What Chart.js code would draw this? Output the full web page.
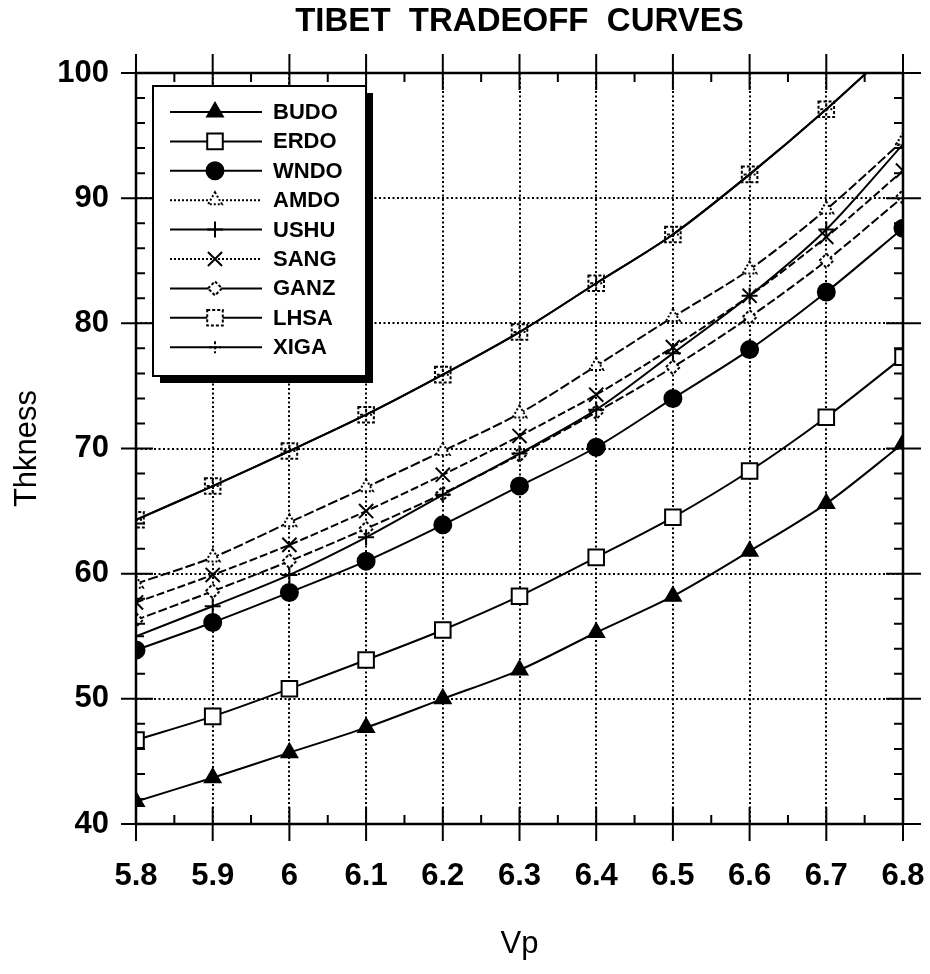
<!DOCTYPE html>
<html><head><meta charset="utf-8">
<script src="https://cdn.jsdelivr.net/npm/chart.js@4/dist/chart.umd.min.js"></script>
<style>html,body{margin:0;padding:0;background:#fff}#wrap{width:930px;height:974px}</style>
</head><body><div id="wrap"><canvas id="c" width="930" height="974"></canvas></div>
<script>
// ---- data ----
const vp = [5.8, 5.9, 6.0, 6.1, 6.2, 6.3, 6.4, 6.5, 6.6, 6.7, 6.8];
const xTickLabels = ['5.8', '5.9', '6', '6.1', '6.2', '6.3', '6.4', '6.5', '6.6', '6.7', '6.8'];
const yTickLabels = ['40', '50', '60', '70', '80', '90', '100'];
const seriesNames = ['BUDO', 'ERDO', 'WNDO', 'AMDO', 'USHU', 'SANG', 'GANZ', 'LHSA', 'XIGA'];
const budo = [41.8, 43.7, 45.7, 47.7, 50.0, 52.3, 55.3, 58.2, 61.8, 65.6, 70.4];
const erdo = [46.7, 48.6, 50.8, 53.1, 55.5, 58.2, 61.3, 64.5, 68.2, 72.5, 77.3];
const wndo = [53.9, 56.1, 58.5, 61.0, 63.9, 67.0, 70.1, 74.0, 77.9, 82.5, 87.6];
const amdo = [59.2, 61.3, 64.1, 66.9, 69.8, 72.8, 76.6, 80.5, 84.3, 89.1, 94.6];
const ushu = [55.0, 57.4, 59.9, 62.9, 66.3, 69.6, 73.1, 77.6, 82.2, 87.5, 94.3];
const sang = [57.7, 59.9, 62.3, 65.0, 67.9, 71.0, 74.3, 78.1, 82.2, 86.9, 92.2];
const ganz = [56.3, 58.6, 61.0, 63.6, 66.4, 69.5, 72.9, 76.5, 80.5, 85.0, 90.1];
const lhsa = [64.3, 67.0, 69.8, 72.7, 75.9, 79.3, 83.2, 87.1, 91.9, 97.1, 102.7];
const xiga = [64.3, 67.0, 69.8, 72.7, 75.9, 79.3, 83.2, 87.1, 91.9, 97.1, 102.7];
const seriesValues = [budo, erdo, wndo, amdo, ushu, sang, ganz, lhsa, xiga];

// ---- styles ----
const styles = [
  {pointStyle: 'triangle', r: 9,  fill: '#000', dash: [],      legendDash: [],     pDash: null},
  {pointStyle: 'rect',     r: 11, fill: '#fff', dash: [],      legendDash: [],     pDash: null},
  {pointStyle: 'circle',   r: 8.5,fill: '#000', dash: [],      legendDash: [],     pDash: null},
  {pointStyle: 'triangle', r: 8,  fill: '#fff', dash: [10, 3], legendDash: [2, 2], pDash: [2, 2]},
  {pointStyle: 'cross',    r: 8,  fill: '#fff', dash: [],      legendDash: [],     pDash: null},
  {pointStyle: 'crossRot', r: 10, fill: '#fff', dash: [8, 3],  legendDash: [2, 2], pDash: null},
  {pointStyle: 'rectRot',  r: 7,  fill: '#fff', dash: [9, 3],  legendDash: [],     pDash: [3, 2]},
  {pointStyle: 'rect',     r: 11, fill: 'rgba(0,0,0,0)', dash: [], legendDash: [], pDash: [3, 2]},
  {pointStyle: 'cross',    r: 6,  fill: '#fff', dash: [],      legendDash: [],     pDash: [3, 2]}
];

const FONT = '"Liberation Sans", Arial, sans-serif';

const datasets = seriesNames.map((name, i) => ({
  label: name,
  data: vp.map((v, j) => ({x: v, y: seriesValues[i][j]})),
  borderColor: '#000',
  borderWidth: 2,
  borderDash: styles[i].dash,
  pointStyle: styles[i].pointStyle,
  pointRadius: styles[i].r,
  pointBorderWidth: 2,
  pointBorderColor: '#000',
  pointBackgroundColor: styles[i].fill,
  tension: 0.3,
  fill: false,
  legendDash: styles[i].legendDash,
  pointDash: styles[i].pDash
}));

const pointDashPlugin = {
  id: 'pointDash',
  beforeDatasetDraw(chart, args) {
    const ds = chart.data.datasets[args.index];
    chart.ctx.save();
    if (ds.pointDash) chart.ctx.setLineDash(ds.pointDash);
  },
  afterDatasetDraw(chart) { chart.ctx.restore(); }
};

const frameTicksLegend = {
  id: 'frameTicksLegend',
  afterDraw(chart) {
    const {ctx, chartArea: a, scales: {x, y}} = chart;
    ctx.save();
    ctx.strokeStyle = '#000';
    ctx.setLineDash([]);
    ctx.lineWidth = 2;
    ctx.beginPath();
    for (let i = 0; i < vp.length; i++) {
      const px = x.getPixelForValue(vp[i]);
      ctx.moveTo(px, a.bottom + 17); ctx.lineTo(px, a.bottom - 17);
      ctx.moveTo(px, a.top - 19); ctx.lineTo(px, a.top + 17);
      if (i < vp.length - 1) {
        const mx = x.getPixelForValue((vp[i] + vp[i + 1]) / 2);
        ctx.moveTo(mx, a.bottom); ctx.lineTo(mx, a.bottom - 9);
        ctx.moveTo(mx, a.top); ctx.lineTo(mx, a.top + 9);
      }
    }
    const yt = y.ticks.map(t => t.value);
    for (let i = 0; i < yt.length; i++) {
      const py = y.getPixelForValue(yt[i]);
      ctx.moveTo(a.left - 15, py); ctx.lineTo(a.left + 17, py);
      ctx.moveTo(a.right - 17, py); ctx.lineTo(a.right + 18, py);
      if (i < yt.length - 1) {
        for (let k = 1; k < 5; k++) {
          const my = y.getPixelForValue(yt[i] + (yt[i + 1] - yt[i]) * k / 5);
          ctx.moveTo(a.left, my); ctx.lineTo(a.left + 9, my);
          ctx.moveTo(a.right, my); ctx.lineTo(a.right - 9, my);
        }
      }
    }
    ctx.stroke();
    ctx.lineWidth = 2.5;
    ctx.strokeRect(a.left, a.top, a.right - a.left, a.bottom - a.top);

    // legend box
    const bx = a.left + 17, by = a.top + 13, bw = 213, bh = 290, sh = 7;
    ctx.fillStyle = '#000';
    ctx.fillRect(bx + sh, by + sh, bw, bh);
    ctx.fillStyle = '#fff';
    ctx.fillRect(bx, by, bw, bh);
    ctx.lineWidth = 2;
    ctx.strokeRect(bx, by, bw, bh);
    ctx.font = 'bold 22px ' + FONT;
    ctx.textBaseline = 'middle';
    ctx.textAlign = 'left';
    chart.data.datasets.forEach((ds, i) => {
      const ly = by + 26 + i * 29.4;
      ctx.save();
      ctx.strokeStyle = '#000';
      ctx.lineWidth = 2;
      ctx.setLineDash(ds.legendDash);
      ctx.beginPath();
      ctx.moveTo(bx + 17, ly); ctx.lineTo(bx + 109, ly);
      ctx.stroke();
      ctx.setLineDash(ds.pointDash || []);
      ctx.fillStyle = ds.pointBackgroundColor === 'rgba(0,0,0,0)' ? '#fff' : ds.pointBackgroundColor;
      ctx.lineWidth = 2;
      Chart.helpers.drawPoint(ctx, {pointStyle: ds.pointStyle, radius: ds.pointRadius, borderWidth: 2, rotation: 0}, bx + 62, ly);
      ctx.restore();
      ctx.fillStyle = '#000';
      ctx.fillText(ds.label, bx + 120, ly + 1);
    });
    ctx.restore();
  }
};

new Chart(document.getElementById('c'), {
  type: 'line',
  data: {datasets},
  plugins: [pointDashPlugin, frameTicksLegend],
  options: {
    responsive: false,
    devicePixelRatio: 1,
    animation: false,
    layout: {padding: {left: 0, right: 27, top: 0, bottom: 0}},
    plugins: {
      legend: {display: false},
      tooltip: {enabled: false},
      title: {
        display: true,
        fullSize: false,
        text: 'TIBET  TRADEOFF  CURVES',
        color: '#000',
        font: {family: FONT, size: 33, weight: 'bold', lineHeight: 1.2},
        padding: {top: 2, bottom: 31.4}
      }
    },
    scales: {
      x: {
        type: 'linear',
        min: 5.8, max: 6.8,
        afterFit: s => { s.height = 150; s.paddingLeft = 0; s.paddingRight = 0; },
        afterBuildTicks: s => { s.ticks = vp.map(v => ({value: v})); },
        ticks: {
          callback: (v, i) => xTickLabels[i],
          color: '#000', padding: 34, maxRotation: 0, autoSkip: false,
          font: {family: FONT, size: 31, weight: 'bold'}
        },
        grid: {color: '#000', lineWidth: 2, drawTicks: false},
        border: {display: false, dash: [2, 2.5]},
        title: {display: true, text: 'Vp', color: '#000', padding: {top: 0, bottom: 11},
          font: {family: FONT, size: 31}}
      },
      y: {
        type: 'linear',
        min: 40, max: 100,
        afterFit: s => { s.width = 136; s.paddingTop = 0; s.paddingBottom = 0; },
        afterBuildTicks: s => { s.ticks = yTickLabels.map(t => ({value: Number(t)})); },
        ticks: {
          callback: (v, i) => yTickLabels[i],
          color: '#000', padding: 27,
          font: {family: FONT, size: 31, weight: 'bold'}
        },
        grid: {color: '#000', lineWidth: 2, drawTicks: false},
        border: {display: false, dash: [2, 2.5]},
        title: {display: true, text: 'Thkness', color: '#000', padding: {top: 9, bottom: 0},
          font: {family: FONT, size: 31}}
      }
    }
  }
});
</script>
</body></html>
